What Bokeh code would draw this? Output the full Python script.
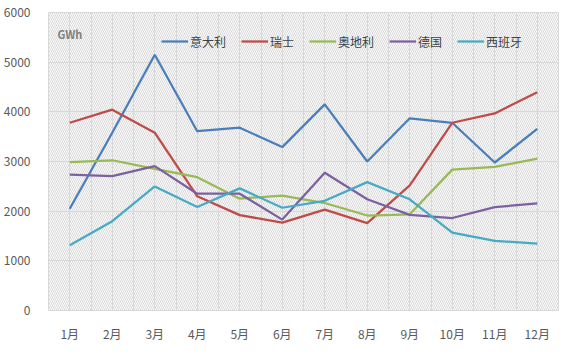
from bokeh.plotting import figure
from bokeh.models import BoxAnnotation, Label, Legend, LegendItem, FixedTicker, Range1d
from bokeh.embed import file_html
from bokeh.resources import INLINE

months = ["1月", "2月", "3月", "4月", "5月", "6月", "7月", "8月", "9月", "10月", "11月", "12月"]
italy = [2050, 3580, 5150, 3610, 3680, 3290, 4150, 3000, 3870, 3780, 2980, 3655]
swiss = [3780, 4043, 3580, 2300, 1920, 1770, 2030, 1760, 2520, 3780, 3968, 4396]
austria = [2987, 3025, 2850, 2685, 2251, 2315, 2164, 1912, 1937, 2836, 2893, 3057]
germany = [2736, 2704, 2906, 2352, 2352, 1830, 2774, 2239, 1925, 1862, 2081, 2157]
spain = [1315, 1798, 2497, 2082, 2459, 2069, 2208, 2585, 2239, 1566, 1403, 1346]

names = ["意大利", "瑞士", "奥地利", "德国", "西班牙"]
series = [italy, swiss, austria, germany, spain]
colors = ["#4a7ebb", "#be4b48", "#98b954", "#7d60a0", "#46aac5"]
y_ticks = [0, 1000, 2000, 3000, 4000, 5000, 6000]

xs = list(range(1, len(months) + 1))
FONT = "Noto Sans CJK SC"

p = figure(width=561, height=344, output_backend="svg", toolbar_location=None,
           x_range=Range1d(0.5, len(months) + 0.5), y_range=Range1d(y_ticks[0], y_ticks[-1]),
           min_border_left=34, min_border_right=3, min_border_top=12, min_border_bottom=25)

p.background_fill_color = "white"
p.border_fill_color = "white"
p.outline_line_color = "#d9d9d9"

p.add_layout(BoxAnnotation(fill_alpha=0, line_alpha=0,
                           hatch_pattern="left_diagonal_line", hatch_color="#d6d6d6",
                           hatch_scale=4, hatch_weight=1, level="underlay"))

renderers = []
for name, vals, c in zip(names, series, colors):
    r = p.line(xs, vals, line_color=c, line_width=2.25)
    renderers.append((name, r))

p.xaxis.ticker = FixedTicker(ticks=xs)
p.xaxis.major_label_overrides = {x: m for x, m in zip(xs, months)}
p.xgrid.ticker = FixedTicker(ticks=[0.5 + 0.5 * i for i in range(2 * len(months) + 1)])
p.yaxis.ticker = FixedTicker(ticks=y_ticks)
p.xgrid.grid_line_color = "#d9d9d9"
p.ygrid.grid_line_color = "#d9d9d9"

for ax in (p.xaxis, p.yaxis):
    ax.major_tick_line_color = None
    ax.minor_tick_line_color = None
    ax.major_label_text_font = FONT
    ax.major_label_text_font_size = "12px"
    ax.major_label_text_color = "#595959"
p.yaxis.axis_line_color = None
p.xaxis.axis_line_color = "#d9d9d9"
p.xaxis.major_label_standoff = 8
p.yaxis.major_label_standoff = 12

legend = Legend(items=[LegendItem(label=n, renderers=[r]) for n, r in renderers],
                orientation="horizontal", location=(113, 259),
                background_fill_alpha=0, border_line_color=None,
                label_text_font=FONT, label_text_font_size="12px", label_text_color="#404040",
                glyph_width=27, label_standoff=2, spacing=15, padding=0, margin=0)
p.add_layout(legend)

p.add_layout(Label(x=9, y=269, x_units="screen", y_units="screen", text="GWh",
                   text_font=FONT, text_font_size="11px", text_color="#808080", text_font_style="bold"))

open("out.html", "w").write(file_html(p, INLINE))
